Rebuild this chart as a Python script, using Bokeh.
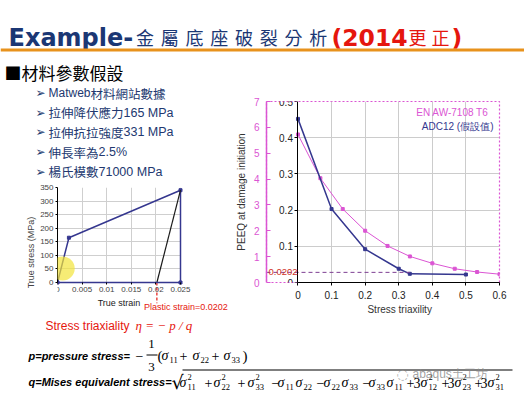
from bokeh.plotting import figure
from bokeh.models import Range1d, LinearAxis, FixedTicker, Label, Span, BoxAnnotation
from bokeh.layouts import column, row
from bokeh.embed import file_html
from bokeh.resources import INLINE

# ---------------- data ----------------
true_strain = [0.0, 0.00232, 0.025, 0.025]
true_stress = [0.0, 165.0, 340.0, 0.0]
unload_strain = [0.0202, 0.025]
unload_stress = [0.0, 340.0]
plastic_strain = 0.0202
strain_ticks = [0.0, 0.005, 0.01, 0.015, 0.02, 0.025]
strain_tick_labels = ["0", "0.005", "0.01", "0.015", "0.02", "0.025"]
stress_ticks = [0, 50, 100, 150, 200, 250, 300, 350]

triax_ticks = [0.0, 0.1, 0.2, 0.3, 0.4, 0.5, 0.6]
triax_tick_labels = ["0", "0.1", "0.2", "0.3", "0.4", "0.5", "0.6"]
peeq_ticks = [0.0, 0.1, 0.2, 0.3, 0.4, 0.5]
peeq_tick_labels = ["0", "0.1", "0.2", "0.3", "0.4", "0.5"]
peeq_alt_ticks = [0, 1, 2, 3, 4, 5, 6, 7]

adc_eta = [0.0, 0.1, 0.2, 0.3, 0.333, 0.5]
adc_peeq = [0.452, 0.203, 0.092, 0.038, 0.024, 0.022]
en_eta = [0.0, 0.0667, 0.1333, 0.2, 0.2667, 0.3333, 0.4, 0.4667, 0.5333, 0.6]
en_peeq = [0.409, 0.288, 0.203, 0.143, 0.101, 0.072, 0.053, 0.038, 0.029, 0.023]
cut_eta = 0.333
cut_level = 0.028
cut_label = "0.0202"

title_latin = "Example-"
title_cjk = "金屬底座破裂分析"
title_year = "(2014"
title_fix = "更正"
title_close = ")"
heading = "■材料參數假設"
bullets = [("Matweb", "材料網站數據", ""),
           ("", "拉伸降伏應力", "165 MPa"),
           ("", "拉伸抗拉強度", "331 MPa"),
           ("", "伸長率為", "2.5%"),
           ("", "楊氏模數", "71000 MPa")]
legend_en = "EN AW-7108 T6"
legend_adc = "ADC12 (假設值)"

# ---------------- style ----------------
NAVY_T = "#1B3774"
NAVY_TXT = "#22386F"
RED = "#E5160E"
ORANGE = "#E8921C"
MAG = "#DB55D3"
NAVY_L = "#35378F"
SANS = "Liberation Sans"
CJK = "Noto Sans CJK TC"
SERIF = "Liberation Serif"
NB = "\u00a0"


def canvas(w, h, x0, y0):
    p = figure(width=w, height=h, x_range=Range1d(x0, x0 + w), y_range=Range1d(y0 + h, y0),
               x_axis_location=None, y_axis_location=None, toolbar_location=None,
               output_backend="svg", min_border=0, outline_line_color=None, frame_align=False,
               background_fill_color="white", border_fill_color="white")
    p.grid.visible = False
    return p


def lab(p, x, y, text, font=SANS, size=12, color="black", style="normal",
        align="left", baseline="middle", alpha=1.0):
    p.add_layout(Label(x=x, y=y, text=text, text_font=font, text_font_size=f"{size}px",
                       text_color=color, text_font_style=style, text_align=align,
                       text_baseline=baseline, text_alpha=alpha))


# ---------------- title ----------------
tp = canvas(524, 57, 0, 0)
lab(tp, 8, 37, title_latin, font="DejaVu Sans", size=24, color=NAVY_T, style="bold", baseline="alphabetic")
for i, ch in enumerate(title_cjk):
    lab(tp, 144.4 + 24.75 * i, 36, ch, font=CJK, size=18, color=NAVY_T, align="center", baseline="alphabetic")
lab(tp, 331, 37, title_year, font="DejaVu Sans", size=23.5, color=RED, style="bold", baseline="alphabetic")
for i, ch in enumerate(title_fix):
    lab(tp, 417 + 23 * i, 36, ch, font=CJK, size=18, color=RED, align="center", baseline="alphabetic")
lab(tp, 451, 37, title_close, font="DejaVu Sans", size=23.5, color=RED, style="bold", baseline="alphabetic")
tp.add_layout(Span(location=49.5, dimension="width", line_color=ORANGE, line_width=3))

# ---------------- bullet text ----------------
bp = canvas(232, 123, 0, 57)
lab(bp, 4, 72, heading, font=CJK, size=17, color="black")
for k, (pre, cjk, post) in enumerate(bullets):
    y = 92.5 + 19.7 * k
    lab(bp, 35, y, "➢", font="DejaVu Sans", size=12, color=NAVY_TXT)
    x = 48
    if pre:
        lab(bp, x, y, pre, font=SANS, size=12, color=NAVY_TXT)
        x += 3.5 * 12
    lab(bp, x, y, cjk, font=CJK, size=12.5, color=NAVY_TXT)
    x += 12.5 * len(cjk)
    if post:
        lab(bp, x, y, post, font=SANS, size=12.5, color=NAVY_TXT)

# ---------------- small stress-strain chart ----------------
# frame: left edge = strain 0, stress 0 sits 35 px above the canvas bottom, 350 MPa = 95 px
stress_lo = -350 * 35 / 95
strain_hi = 0.025 * 175 / 123
sc = figure(width=232, height=137, x_range=Range1d(0, strain_hi), y_range=Range1d(stress_lo, 350),
            toolbar_location=None, output_backend="svg", frame_align=False, x_axis_location=None,
            min_border_left=57, min_border_right=0, min_border_top=7, min_border_bottom=0,
            outline_line_color=None, background_fill_color="white", border_fill_color="white")
xa = LinearAxis(fixed_location=0, bounds=(0, strain_ticks[-1]), ticker=FixedTicker(ticks=strain_ticks),
                major_label_overrides=dict(zip(strain_ticks, strain_tick_labels)),
                axis_line_color=NAVY_L, axis_line_width=1.5)
sc.add_layout(xa, "below")
sc.yaxis.ticker = FixedTicker(ticks=stress_ticks)
sc.yaxis.bounds = (0, stress_ticks[-1])
sc.yaxis.axis_label = "True stress (MPa)"
sc.xgrid.ticker = FixedTicker(ticks=strain_ticks)
sc.xgrid.cross_bounds = (0, stress_ticks[-1])
sc.ygrid.ticker = FixedTicker(ticks=stress_ticks)
sc.ygrid.cross_bounds = (0, strain_ticks[-1])
sc.grid.grid_line_color = "#CFCFCF"
for ax in (xa, sc.yaxis):
    ax.major_label_text_font = SANS
    ax.major_label_text_font_size = "8px"
    ax.axis_label_text_font = SANS
    ax.axis_label_text_font_size = "9px"
    ax.axis_label_text_font_style = "normal"
    ax.major_tick_in = 0
    ax.major_tick_out = 2
    ax.minor_tick_line_color = None
    ax.major_label_standoff = 2
    ax.axis_label_standoff = 1
sc.add_layout(Label(x=strain_ticks[-1] / 2, y=-74, text="True strain", text_font=SANS, text_font_size="9px",
                    text_color="#222222", text_align="center", text_baseline="middle"))
sc.line(true_strain, true_stress, line_color=NAVY_L, line_width=1.5)
sc.scatter(true_strain, true_stress, marker="square", size=3, color=NAVY_L)
sc.line(unload_strain, unload_stress, line_color="#1A1A1A", line_width=1.2)
sc.line([plastic_strain, plastic_strain], [0, -76], line_color=RED, line_dash="3 2", line_width=1.2)
sc.add_layout(Label(x=plastic_strain, y=-92, x_offset=-13, text=f"Plastic strain={plastic_strain}",
                    text_font=SANS, text_font_size="9px", text_color=RED, text_baseline="middle"))
sc.add_layout(BoxAnnotation(left=-0.0014, right=0.0035, bottom=7, top=96, fill_color="#F2E43A",
                            fill_alpha=0.7, line_color=None, border_radius=12))

# ---------------- big PEEQ chart ----------------
x_lo = -0.0937
bc = figure(width=292, height=260, x_range=Range1d(x_lo, 0.6), y_range=Range1d(0, 0.5),
            toolbar_location=None, output_backend="svg", y_axis_location=None, frame_align=False,
            min_border_left=30, min_border_right=25, min_border_top=44, min_border_bottom=31,
            outline_line_color=MAG, outline_line_dash="2 2", outline_line_width=1.2,
            background_fill_color="white", border_fill_color="white")
bc.extra_y_ranges = {"alt": Range1d(0, 7)}
alt = LinearAxis(y_range_name="alt", ticker=FixedTicker(ticks=peeq_alt_ticks),
                 axis_label="PEEQ at damage initiation",
                 axis_line_color=MAG, axis_line_width=1.5, major_tick_line_color=MAG,
                 major_tick_in=4, major_tick_out=0, minor_tick_line_color=None,
                 major_label_text_color=MAG, major_label_text_font=SANS, major_label_text_font_size="10px",
                 major_label_standoff=7, axis_label_text_font=SANS, axis_label_text_font_size="10px",
                 axis_label_text_font_style="normal", axis_label_standoff=4, axis_label_text_color="#333333")
bc.add_layout(alt, "left")
inner = LinearAxis(ticker=FixedTicker(ticks=peeq_ticks), fixed_location=0, bounds=(0, 0.5),
                   major_label_overrides=dict(zip(peeq_ticks, peeq_tick_labels)),
                   axis_line_color="black", major_tick_out=3, major_tick_in=0, minor_tick_line_color=None,
                   major_label_standoff=2, major_label_text_font=SANS, major_label_text_font_size="10px",
                   major_label_text_color="#222222")
bc.add_layout(inner, "left")
bc.xaxis.ticker = FixedTicker(ticks=triax_ticks)
bc.xaxis.major_label_overrides = dict(zip(triax_ticks, triax_tick_labels))
bc.xaxis.bounds = (0, 0.6)
bc.xaxis.axis_label = NB * 12 + "Stress triaxility"
bc.xaxis.axis_label_text_font = SANS
bc.xaxis.axis_label_text_font_size = "10px"
bc.xaxis.axis_label_text_font_style = "normal"
bc.xaxis.axis_label_text_color = "#333333"
bc.xaxis.axis_label_standoff = 2
bc.xaxis.major_label_text_font = SANS
bc.xaxis.major_label_text_font_size = "10px"
bc.xaxis.major_label_text_color = "#222222"
bc.xaxis.major_tick_in = 0
bc.xaxis.major_tick_out = 3
bc.xaxis.minor_tick_line_color = None
bc.xaxis.major_label_standoff = 5
bc.xgrid.ticker = FixedTicker(ticks=triax_ticks)
bc.ygrid.ticker = FixedTicker(ticks=peeq_ticks)
bc.ygrid.cross_bounds = (0, 0.6)
bc.grid.grid_line_color = "#CCCCCC"

bc.line(en_eta, en_peeq, line_color=MAG, line_width=1)
bc.scatter(en_eta, en_peeq, marker="square", size=3, color=MAG)
bc.line(adc_eta, adc_peeq, line_color=NAVY_L, line_width=1.5)
bc.scatter(adc_eta, adc_peeq, marker="square", size=3, color=NAVY_L)
bc.line([x_lo, cut_eta], [cut_level, cut_level], line_color="#7E3F92", line_dash="4 3", line_width=1)
bc.add_layout(Label(x=x_lo, y=cut_level, x_offset=2, text=cut_label, text_font=SANS,
                    text_font_size="9.5px", text_color="#D0301E", text_baseline="middle"))
bc.add_layout(Label(x=0.6, y=0.470, x_offset=-11, text=legend_en, text_font=SANS, text_font_size="10px",
                    text_color=MAG, text_align="right", text_baseline="middle"))
bc.add_layout(Label(x=0.6, y=0.432, x_offset=-6, text=legend_adc, text_font=SANS, text_font_size="10px",
                    text_color=NAVY_L, text_align="right", text_baseline="middle"))

# ---------------- formulas ----------------
fp = canvas(524, 80, 0, 317)
lab(fp, 45, 325, "Stress triaxiality", font=SANS, size=12, color=RED)
lab(fp, 135, 325, "η = − p / q", font=SERIF, size=13, color=RED, style="italic")
lab(fp, 28, 355, "p=pressure stress=", font=SANS, size=11, color="black", style="bold italic")
lab(fp, 28, 381, "q=Mises equivalent stress=", font=SANS, size=11, color="black", style="bold italic")


def sig(p, x, y, sub, sup=None):
    lab(p, x, y, "σ", font=SERIF, size=14, style="italic")
    lab(p, x + 8, y + 4, sub, font=SERIF, size=8.5)
    if sup:
        lab(p, x + 8, y - 6, sup, font=SERIF, size=8.5)


# p formula
lab(fp, 135, 355, "−", font=SERIF, size=14)
lab(fp, 151, 343, "1", font=SERIF, size=13, align="center")
lab(fp, 151, 366, "3", font=SERIF, size=13, align="center")
fp.add_layout(BoxAnnotation(left=146, right=157, top=354, bottom=355, fill_color="black",
                            fill_alpha=1, line_color=None))
lab(fp, 157, 355, "(", font=SERIF, size=15)
sig(fp, 161, 355, "11")
lab(fp, 179, 355, "+", font=SERIF, size=14)
sig(fp, 192, 355, "22")
lab(fp, 211, 355, "+", font=SERIF, size=14)
sig(fp, 223, 355, "33")
lab(fp, 242, 355, ")", font=SERIF, size=15)

# q formula
lab(fp, 171, 381, "√", font="DejaVu Serif", size=19)
fp.add_layout(BoxAnnotation(left=182, right=512, top=369, bottom=370, fill_color="black",
                            fill_alpha=1, line_color=None))
qy = 382
terms = [(179, "11", "2"), ("+", 204), (213, "22", "2"), ("+", 237), (247, "33", "2"), ("−", 271),
         (277, "11", None), (295, "22", None), ("−", 316), (323, "22", None), (341, "33", None),
         ("−", 362), (368, "33", None), (386, "11", None), ("+", 406), ("3", 413), (420, "12", "2"),
         ("+", 441), ("3", 447), (454, "23", "2"), ("+", 474), ("3", 480), (487, "31", "2")]
for t in terms:
    if isinstance(t[0], str):
        lab(fp, t[1], qy, t[0], font=SERIF, size=14)
    else:
        sig(fp, t[0], qy, t[1], t[2])

# watermark
lab(fp, 396, 373, "◌", font="DejaVu Sans", size=14, color="#9A9A9A", alpha=0.8)
lab(fp, 412, 373, "abaqus土工坊", font=SANS, size=12, color="#8A8A8A", alpha=0.8)

layout = column(tp, row(column(bp, sc), bc), fp)
open("out.html", "w").write(file_html(layout, INLINE))
